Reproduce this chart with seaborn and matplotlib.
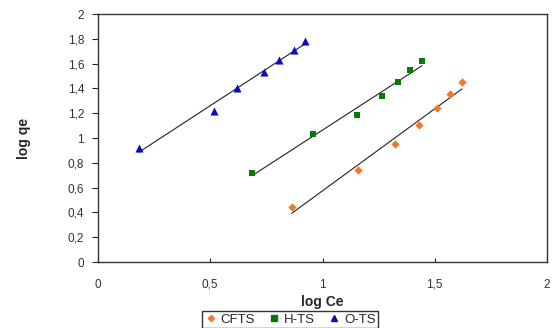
import numpy as np
import pandas as pd
import matplotlib
matplotlib.use('Agg')
import matplotlib.pyplot as plt
import seaborn as sns

# log Ce / log qe
cfts_x = [0.863, 1.158, 1.321, 1.430, 1.510, 1.569, 1.621]
cfts_y = [0.446, 0.742, 0.954, 1.105, 1.242, 1.357, 1.449]
hts_x = [0.686, 0.958, 1.154, 1.263, 1.336, 1.391, 1.443]
hts_y = [0.715, 1.032, 1.190, 1.336, 1.452, 1.546, 1.623]
ots_x = [0.183, 0.518, 0.619, 0.738, 0.805, 0.874, 0.922]
ots_y = [0.922, 1.218, 1.403, 1.535, 1.629, 1.712, 1.780]

series = ['CFTS', 'H-TS', 'O-TS']
colors = ['#F07828', '#087808', '#0A0AC0']
markers = ['D', 's', '^']
msizes = [18, 24, 34]
xticks = [0, 0.5, 1, 1.5, 2]
yticks = [0, 0.2, 0.4, 0.6, 0.8, 1, 1.2, 1.4, 1.6, 1.8, 2]

sns.set_style('white')
plt.rcParams['font.family'] = ['Liberation Sans', 'DejaVu Sans']

fig = plt.figure(figsize=(5.52, 3.28), dpi=100)
ax = fig.add_axes([0.1775, 0.201, 0.8135, 0.756])

data = [(cfts_x, cfts_y), (hts_x, hts_y), (ots_x, ots_y)]
handles = []
for (xs, ys), name, c, m, s in zip(data, series, colors, markers, msizes):
    df = pd.DataFrame({'x': xs, 'y': ys})
    sns.regplot(x='x', y='y', data=df, ax=ax, ci=None, marker=m,
                scatter_kws={'color': c, 's': s, 'linewidths': 0, 'alpha': 1, 'zorder': 3},
                line_kws={'color': '#222222', 'lw': 0.8, 'zorder': 2})
    handles.append(plt.Line2D([], [], ls='', marker=m, color=c,
                              markersize=np.sqrt(s) * 0.75, label=name))

ax.set_xlim(0, 2)
ax.set_ylim(0, 2)
ax.set_xticks(xticks)
ax.set_yticks(yticks)
fmt = lambda v: ('%g' % v).replace('.', ',')
ax.set_xticklabels([fmt(v) for v in xticks], fontsize=8.5, color='#333333')
ax.set_yticklabels([fmt(v) for v in yticks], fontsize=8.5, color='#333333')
ax.tick_params(axis='y', direction='out', length=4, width=0.8, left=True, pad=6)
ax.tick_params(axis='x', direction='in', length=3, width=0.8, bottom=True, pad=12)
for sp in ax.spines.values():
    sp.set_color('#333333')
    sp.set_linewidth(1.0)

ax.set_xlabel('log Ce', fontsize=10, fontweight='bold', labelpad=3)
ax.set_ylabel('log qe', fontsize=10, fontweight='bold', labelpad=26)

fig.legend(handles=handles, loc='upper center', bbox_to_anchor=(0.526, 0.052),
           ncol=3, fontsize=9.5, frameon=True, fancybox=False, edgecolor='black',
           handlelength=0.9, handletextpad=0.3, columnspacing=1.0,
           borderpad=0.2, borderaxespad=0.0)

fig.savefig('out.png', dpi=100)
